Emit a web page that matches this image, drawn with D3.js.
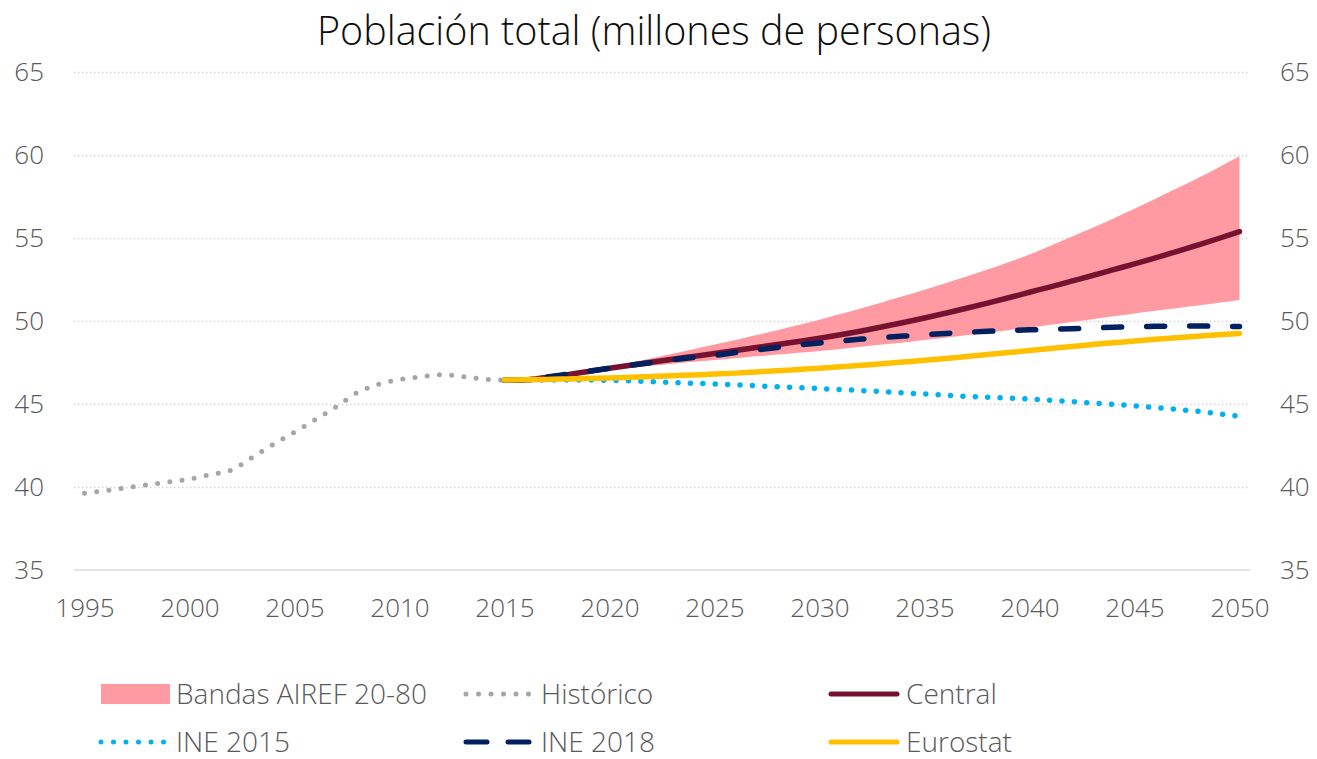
<!DOCTYPE html>
<html>
<head>
<meta charset="utf-8">
<script src="https://cdn.jsdelivr.net/npm/d3@7"></script>
<style>
  body { margin: 0; background: #fff; }
  svg text { font-family: "Open Sans", "Lato", sans-serif; font-weight: 300; }
</style>
</head>
<body>
<svg id="chart"></svg>
<script>
// categories
const years = d3.range(1995, 2051);
const tickYears = [1995, 2000, 2005, 2010, 2015, 2020, 2025, 2030, 2035, 2040, 2045, 2050];
const yTicks = [35, 40, 45, 50, 55, 60, 65];

// Histórico 1995-2015
const histYears = d3.range(1995, 2016);
const historico = [39.62, 39.78, 39.96, 40.14, 40.3, 40.48, 40.75, 41.02, 41.8, 42.57,
    43.31, 44.06, 44.84, 45.69, 46.19, 46.47, 46.63, 46.77, 46.65, 46.5, 46.43];

// projections 2015-2050
const projYears = d3.range(2015, 2051);
const bandaSup = [46.43, 46.45, 46.62, 46.8, 47.0, 47.25, 47.5, 47.76, 48.02, 48.3,
    48.58, 48.86, 49.15, 49.45, 49.76, 50.08, 50.42, 50.77, 51.13, 51.5,
    51.88, 52.28, 52.68, 53.1, 53.54, 54.0, 54.53, 55.07, 55.62, 56.18,
    56.76, 57.37, 57.98, 58.6, 59.25, 59.92];
const bandaInf = [46.43, 46.45, 46.6, 46.75, 46.9, 47.05, 47.18, 47.3, 47.42, 47.54,
    47.65, 47.76, 47.87, 47.98, 48.09, 48.2, 48.32, 48.45, 48.58, 48.71,
    48.85, 48.99, 49.14, 49.29, 49.44, 49.6, 49.77, 49.94, 50.11, 50.28,
    50.45, 50.61, 50.77, 50.93, 51.1, 51.27];
const central = [46.43, 46.45, 46.6, 46.77, 46.96, 47.15, 47.34, 47.52, 47.7, 47.87,
    48.04, 48.22, 48.4, 48.58, 48.77, 48.96, 49.17, 49.4, 49.65, 49.91,
    50.18, 50.47, 50.77, 51.08, 51.4, 51.73, 52.06, 52.4, 52.74, 53.09,
    53.44, 53.8, 54.18, 54.57, 54.97, 55.39];
const ine2018 = [46.43, 46.45, 46.62, 46.8, 46.98, 47.15, 47.33, 47.5, 47.66, 47.8,
    47.93, 48.1, 48.26, 48.41, 48.55, 48.68, 48.8, 48.91, 49.01, 49.09,
    49.17, 49.25, 49.32, 49.38, 49.43, 49.47, 49.5, 49.54, 49.58, 49.62,
    49.66, 49.68, 49.7, 49.7, 49.68, 49.67];
const ine2015 = [46.45, 46.45, 46.45, 46.45, 46.45, 46.43, 46.4, 46.35, 46.3, 46.25,
    46.2, 46.15, 46.1, 46.04, 45.99, 45.93, 45.87, 45.81, 45.74, 45.67,
    45.6, 45.53, 45.46, 45.4, 45.35, 45.3, 45.22, 45.14, 45.06, 44.98,
    44.89, 44.79, 44.68, 44.56, 44.42, 44.26];
const eurostat = [46.45, 46.46, 46.48, 46.51, 46.54, 46.57, 46.61, 46.65, 46.7, 46.75,
    46.8, 46.86, 46.93, 47.0, 47.08, 47.16, 47.25, 47.34, 47.43, 47.53,
    47.63, 47.74, 47.86, 47.98, 48.1, 48.22, 48.34, 48.46, 48.58, 48.69,
    48.8, 48.9, 48.99, 49.08, 49.17, 49.25];

const W = 1317, H = 759;
const plotLeft = 74, plotRight = 1250, plotTop = 72, plotBottom = 570;
const textColor = "#595959";

const svg = d3.select("#chart").attr("width", W).attr("height", H);

const x = d3.scalePoint().domain(years).range([plotLeft, plotRight]).padding(0.5);
const y = d3.scaleLinear().domain([35, 65]).range([plotBottom, plotTop]);

// gridlines
svg.append("g")
    .attr("transform", `translate(${plotLeft},0)`)
    .call(d3.axisLeft(y).tickValues(yTicks.filter(v => v > 35)).tickSize(-(plotRight - plotLeft)).tickFormat(""))
    .call(g => g.select(".domain").remove())
    .call(g => g.selectAll("line")
        .attr("stroke", "#cfcfcf")
        .attr("stroke-width", 1.3)
        .attr("stroke-dasharray", "1.3,2.7"));

// baseline
svg.append("line")
    .attr("x1", plotLeft).attr("x2", plotRight)
    .attr("y1", y(35)).attr("y2", y(35))
    .attr("stroke", "#d9d9d9").attr("stroke-width", 1.5);

// axes labels
function styleAxis(g) {
    g.select(".domain").remove();
    g.selectAll("line").remove();
    g.selectAll("text").attr("fill", textColor).style("font-size", "26px");
}
svg.append("g")
    .attr("transform", `translate(${plotLeft},0)`)
    .call(d3.axisLeft(y).tickValues(yTicks).tickSize(0).tickPadding(30))
    .call(styleAxis);
svg.append("g")
    .attr("transform", `translate(${plotRight},0)`)
    .call(d3.axisRight(y).tickValues(yTicks).tickSize(0).tickPadding(30))
    .call(styleAxis);
svg.append("g")
    .attr("transform", `translate(0,${plotBottom})`)
    .call(d3.axisBottom(x).tickValues(tickYears).tickSize(0).tickPadding(29))
    .call(styleAxis);

// band
const area = d3.area()
    .x(d => x(d.year))
    .y0(d => y(d.lo))
    .y1(d => y(d.hi))
    .curve(d3.curveMonotoneX);
svg.append("path")
    .datum(projYears.map((yr, i) => ({ year: yr, lo: bandaInf[i], hi: bandaSup[i] })))
    .attr("d", area)
    .attr("fill", "#ff9aa2");

const line = d3.line()
    .x(d => x(d.year))
    .y(d => y(d.v))
    .curve(d3.curveMonotoneX);

function drawSeries(yrs, vals, color, width, dash) {
    svg.append("path")
        .datum(yrs.map((yr, i) => ({ year: yr, v: vals[i] })))
        .attr("d", line)
        .attr("fill", "none")
        .attr("stroke", color)
        .attr("stroke-width", width)
        .attr("stroke-linecap", "round")
        .attr("stroke-dasharray", dash);
}

drawSeries(histYears, historico, "#a6a6a6", 5, "0,12.3");
drawSeries(projYears, ine2015, "#00b0f0", 5.5, "0,12.4");
drawSeries(projYears, central, "#76112f", 5.5, null);
drawSeries(projYears, ine2018, "#002060", 5.5, "18,25");
drawSeries(projYears, eurostat, "#ffc000", 5.5, null);

// title
svg.append("text")
    .attr("x", 654)
    .attr("y", 45)
    .attr("text-anchor", "middle")
    .attr("fill", "#0d0d0d")
    .style("font-size", "39.5px")
    .text("Población total (millones de personas)");

// legend
const legend = [
    { name: "Bandas AIREF 20-80", type: "rect", color: "#ff9aa2", x: 101, y: 694 },
    { name: "Histórico", type: "line", color: "#a6a6a6", dash: "0,12.5", x: 466, y: 694 },
    { name: "Central", type: "line", color: "#76112f", dash: null, x: 831, y: 694 },
    { name: "INE 2015", type: "line", color: "#00b0f0", dash: "0,12.5", x: 101, y: 742 },
    { name: "INE 2018", type: "line", color: "#002060", dash: "21,21", x: 466, y: 742 },
    { name: "Eurostat", type: "line", color: "#ffc000", dash: null, x: 831, y: 742 }
];

const items = svg.append("g").selectAll("g")
    .data(legend)
    .enter()
    .append("g")
    .attr("transform", d => `translate(${d.x},${d.y})`);

items.filter(d => d.type === "rect")
    .append("rect")
    .attr("x", 0).attr("y", -10)
    .attr("width", 69).attr("height", 20)
    .attr("fill", d => d.color);

items.filter(d => d.type === "line")
    .append("line")
    .attr("x1", 0).attr("x2", 66)
    .attr("y1", 0).attr("y2", 0)
    .attr("stroke", d => d.color)
    .attr("stroke-width", 5)
    .attr("stroke-linecap", "round")
    .attr("stroke-dasharray", d => d.dash);

items.append("text")
    .attr("x", 75)
    .attr("y", 0)
    .attr("dy", "0.36em")
    .attr("fill", textColor)
    .style("font-size", "28px")
    .text(d => d.name);
</script>
</body>
</html>
